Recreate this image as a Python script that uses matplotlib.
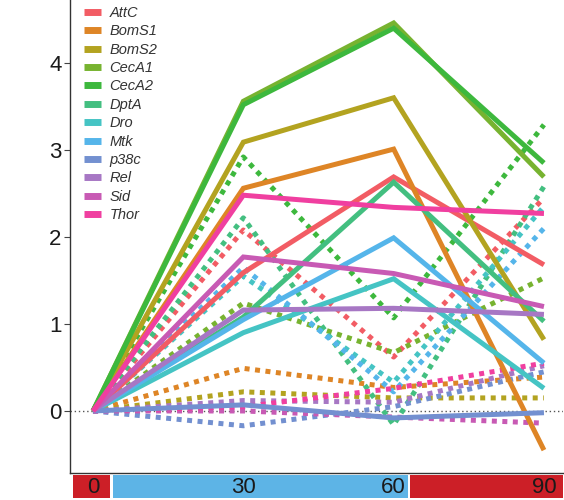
import matplotlib
matplotlib.use("Agg")
import matplotlib.pyplot as plt
from matplotlib.lines import Line2D
from matplotlib.patches import Rectangle

plt.rcParams['font.family'] = ['Liberation Sans', 'DejaVu Sans']

# время (мин) и гены
times = [0, 30, 60, 90]
genes = ['AttC', 'BomS1', 'BomS2', 'CecA1', 'CecA2', 'DptA',
         'Dro', 'Mtk', 'p38c', 'Rel', 'Sid', 'Thor']
colors = ['#F25C64', '#DE8526', '#B3A320', '#77B330', '#3DB83D', '#43BF80',
          '#45C4C4', '#55B5EA', '#7390D0', '#A777C4', '#C85AB4', '#F03FA0']

# сплошные линии
solid = {
    'AttC':  [0, 1.59, 2.69, 1.68],
    'BomS1': [0, 2.56, 3.01, -0.45],
    'BomS2': [0, 3.09, 3.60, 0.82],
    'CecA1': [0, 3.56, 4.46, 2.69],
    'CecA2': [0, 3.52, 4.40, 2.85],
    'DptA':  [0, 1.08, 2.63, 1.03],
    'Dro':   [0, 0.90, 1.52, 0.26],
    'Mtk':   [0, 1.05, 1.99, 0.55],
    'p38c':  [0, 0.07, -0.08, -0.02],
    'Rel':   [0, 1.16, 1.18, 1.11],
    'Sid':   [0, 1.77, 1.58, 1.20],
    'Thor':  [0, 2.48, 2.34, 2.27],
}
# пунктирные линии
dotted = {
    'AttC':  [0, 2.08, 0.62, 2.45],
    'BomS1': [0, 0.49, 0.27, 0.39],
    'BomS2': [0, 0.22, 0.15, 0.15],
    'CecA1': [0, 1.24, 0.67, 1.53],
    'CecA2': [0, 2.92, 1.07, 3.29],
    'DptA':  [0, 2.22, -0.16, 2.58],
    'Dro':   [0, 1.55, 0.33, 2.35],
    'Mtk':   [0, 1.65, 0.22, 2.10],
    'p38c':  [0, -0.17, 0.05, 0.45],
    'Rel':   [0, 0.12, 0.10, 0.52],
    'Sid':   [0, 0.00, -0.07, -0.14],
    'Thor':  [0, 0.05, 0.26, 0.55],
}

# полоса под осью: (начало, конец, цвет)
strip_bands = [(-4, 3.4, '#CC1F27'), (4, 62.8, '#5DB4E6'), (63.2, 93.8, '#CC1F27')]

fig = plt.figure(figsize=(5.64, 5.0), dpi=100)
ax = fig.add_axes([70 / 564, 27 / 500, 493 / 564, 473 / 500])

ax.axhline(0, color='#555555', lw=1, ls=(0, (1, 2)), zorder=1)

for g, c in zip(genes, colors):
    ax.plot(times, dotted[g], color=c, lw=3.6, ls=(0, (1, 1.1)),
            dash_capstyle='butt', zorder=2)
for g, c in zip(genes, colors):
    ax.plot(times, solid[g], color=c, lw=3.6, solid_capstyle='butt',
            solid_joinstyle='miter', zorder=3)

ax.set_xlim(-4.6, 93.8)
ax.set_ylim(-0.713, 4.724)
ax.set_yticks([0, 1, 2, 3, 4])
ax.tick_params(axis='y', labelsize=16, length=4, width=0.8, color='#444444',
               labelcolor='#1a1a1a', pad=2)
ax.set_xticks([])
for s in ['top', 'right']:
    ax.spines[s].set_visible(False)
for s in ['left', 'bottom']:
    ax.spines[s].set_color('#333333')
    ax.spines[s].set_linewidth(1)

handles = [Line2D([0], [0], color=c, lw=5, solid_capstyle='butt') for c in colors]
leg = ax.legend(handles, genes, loc='upper left', bbox_to_anchor=(84 / 564, 1 - 6 / 500),
                bbox_transform=fig.transFigure, frameon=False, borderpad=0,
                borderaxespad=0, fontsize=10.5, labelspacing=0.3,
                handlelength=1.15, handletextpad=0.6)
for t in leg.get_texts():
    t.set_fontstyle('italic')
    t.set_color('#333333')

# полоса с временными метками
sax = fig.add_axes([70 / 564, 2 / 500, 493 / 564, 23 / 500])
sax.set_xlim(ax.get_xlim())
sax.set_ylim(0, 1)
for x0, x1, c in strip_bands:
    sax.add_patch(Rectangle((x0, 0), x1 - x0, 1, color=c, lw=0))
for t in times:
    sax.text(t, 0.45, str(t), ha='center', va='center', fontsize=16, color='#1a1a1a')
sax.axis('off')

fig.savefig('out.png', dpi=100)
